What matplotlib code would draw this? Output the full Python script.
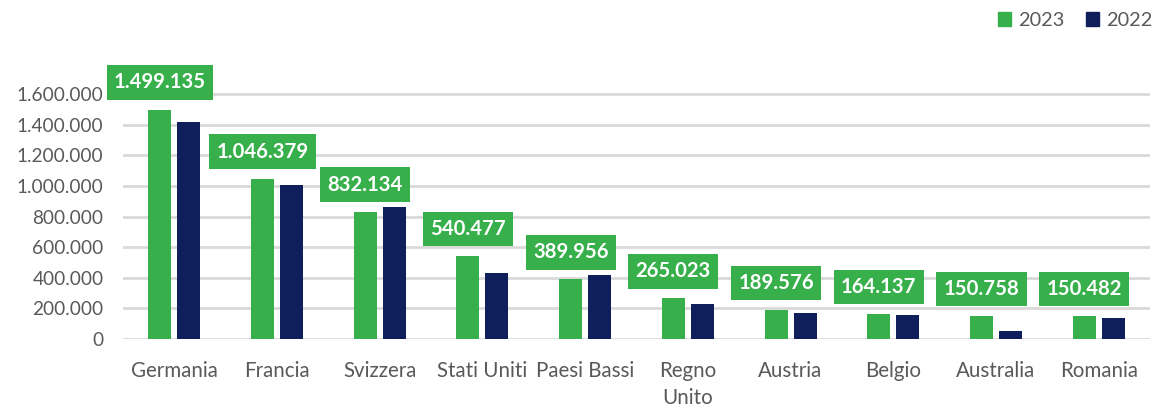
import numpy as np
import matplotlib
matplotlib.use("Agg")
import matplotlib.pyplot as plt
from matplotlib.ticker import FuncFormatter, MultipleLocator
from matplotlib.patches import Patch

plt.rcParams["font.family"] = ["Lato", "DejaVu Sans"]

countries = ["Germania", "Francia", "Svizzera", "Stati Uniti", "Paesi Bassi",
             "Regno\nUnito", "Austria", "Belgio", "Australia", "Romania"]
vals_2023 = [1499135, 1046379, 832134, 540477, 389956,
             265023, 189576, 164137, 150758, 150482]
vals_2022 = [1420000, 1005000, 860000, 430000, 415000,
             232000, 167000, 157000, 55000, 139000]
series_names = ["2023", "2022"]

GREEN = "#37B04B"
NAVY = "#0E1F5C"
GRAY_TXT = "#595959"
GRID = "#D9D9D9"


def it_fmt(v, pos=None):
    return f"{int(round(v)):,}".replace(",", ".")


fig = plt.figure(figsize=(11.56, 4.07), dpi=100)
ax = fig.add_axes([0.1064, 0.167, 0.8884, 0.6094])

x = np.arange(len(countries))
off = 0.141
w = 0.224
ax.bar(x - off, vals_2023, width=w, color=GREEN, zorder=3)
ax.bar(x + off, vals_2022, width=w, color=NAVY, zorder=3)

# value boxes above the 2023 bars
for xi, v in zip(x, vals_2023):
    ax.annotate(it_fmt(v), xy=(xi - off, v), xytext=(0, 19.5),
                textcoords="offset points", ha="center", va="center",
                fontsize=14.6, fontweight="bold", color="white",
                bbox=dict(boxstyle="square,pad=0.36", fc=GREEN, ec="none"),
                annotation_clip=False, zorder=5)

ax.set_xlim(-0.5, len(countries) - 0.5)
ax.set_ylim(0, 1620000)
ax.yaxis.set_major_locator(MultipleLocator(200000))
ax.yaxis.set_major_formatter(FuncFormatter(it_fmt))
ax.grid(axis="y", color=GRID, linewidth=2, zorder=0)
ax.set_axisbelow(True)
for s in ax.spines.values():
    s.set_visible(False)

ax.set_xticks(x)
ax.set_xticklabels(countries, linespacing=1.4)
ax.tick_params(axis="x", length=0, pad=16, labelsize=14.8, colors=GRAY_TXT)
ax.tick_params(axis="y", length=0, pad=14, labelsize=13.7, colors=GRAY_TXT)
for lbl in ax.get_xticklabels():
    lbl.set_verticalalignment("top")

handles = [Patch(color=GREEN), Patch(color=NAVY)]
fig.legend(handles, series_names, loc="upper right", bbox_to_anchor=(1.007, 1.0),
           ncol=2, frameon=False, fontsize=14.3, handlelength=0.65,
           handleheight=0.65, handletextpad=0.35, columnspacing=1.1,
           labelcolor=GRAY_TXT, borderaxespad=0.2)

fig.savefig("out.png", dpi=100)
